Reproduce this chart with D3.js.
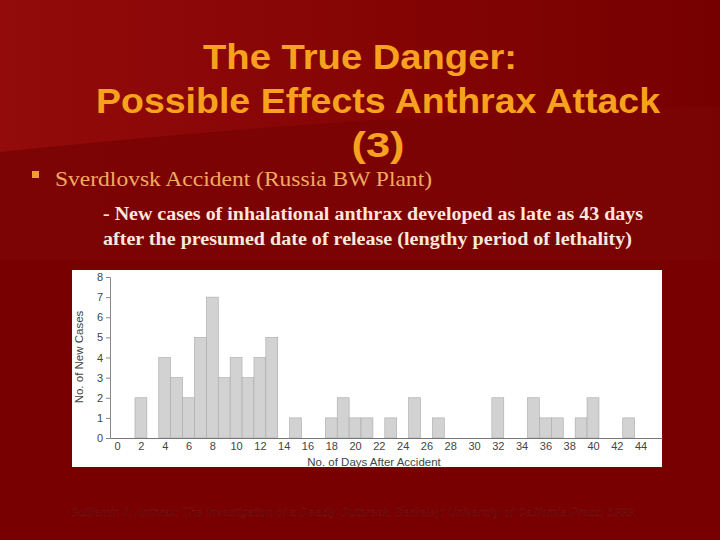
<!DOCTYPE html>
<html><head><meta charset="utf-8">
<script src="https://cdn.jsdelivr.net/npm/d3@7"></script>
<style>html,body{margin:0;padding:0;background:#7a0000;}svg{display:block;}</style>
</head><body>
<script>
// ---- data ----
const days  = [2,4,5,6,7,8,9,10,11,12,13,15,18,19,20,21,23,25,27,32,35,36,37,39,40,43];
const cases = [2,4,3,2,5,7,3,4,3,4,5,1,1,2,1,1,1,2,1,2,2,1,1,1,2,1];
const xTicks = d3.range(0, 45, 2);
const yTicks = [0,1,2,3,4,5,6,7,8];
const titleLines = ["The True Danger:", "Possible Effects Anthrax Attack", "(3)"];
const bulletText = "Sverdlovsk Accident (Russia BW Plant)";
const subLines = ["- New cases of inhalational anthrax developed as late as 43 days",
                  "after the presumed date of release (lengthy period of lethality)"];
const yLabel = "No. of New Cases";
const xLabel = "No. of Days After Accident";
const footnote = "Guillemin J. Anthrax: The Investigation of a Deadly Outbreak. Berkeley: University of California Press; 1999.";

const W = 720, H = 540;
const svg = d3.select("body").append("svg").attr("width", W).attr("height", H);
const defs = svg.append("defs");
const g1 = defs.append("linearGradient").attr("id","bg").attr("x1","0").attr("x2","1").attr("y1","0").attr("y2","0");
g1.append("stop").attr("offset","0").attr("stop-color","#930b0b");
g1.append("stop").attr("offset","0.55").attr("stop-color","#840404");
g1.append("stop").attr("offset","1").attr("stop-color","#760000");
svg.append("rect").attr("width",W).attr("height",H).attr("fill","url(#bg)");
// darker lower band
svg.append("path")
  .attr("d","M0,152 C120,140 260,126 420,118 C540,112 640,108 720,106 L720,540 L0,540 Z")
  .attr("fill","#7a0303").attr("opacity",0.9);
svg.append("rect").attr("x",0).attr("y",260).attr("width",W).attr("height",H-260).attr("fill","#780000");

// ---- title ----
const title = svg.append("g").attr("font-family","'Liberation Sans', Arial, sans-serif")
  .attr("font-weight","bold").attr("fill","#f7a21e").attr("text-anchor","middle");
const tY = [69, 113, 157];
const tX = [360, 378, 378];
const tLen = [314, 564, 53];
titleLines.forEach((t,i)=> title.append("text").attr("x",tX[i]).attr("y",tY[i]).attr("font-size",35)
  .attr("textLength",tLen[i]).attr("lengthAdjust","spacingAndGlyphs").text(t));

// bullet
svg.append("rect").attr("x",32).attr("y",171).attr("width",7).attr("height",7).attr("fill","#f0a030");
svg.append("text").attr("x",55).attr("y",186).attr("font-family","'Liberation Serif', 'Times New Roman', serif")
  .attr("font-size",22).attr("fill","#f2aa62").attr("textLength",377).attr("lengthAdjust","spacingAndGlyphs").text(bulletText);

// sub text
const sub = svg.append("g").attr("font-family","'Liberation Serif', 'Times New Roman', serif")
  .attr("font-weight","bold").attr("font-size",18).attr("fill","#fbe6dc");
const subLen = [540, 529];
subLines.forEach((t,i)=> sub.append("text").attr("x",103).attr("y",220+i*24.5)
  .attr("textLength",subLen[i]).attr("lengthAdjust","spacingAndGlyphs").text(t));

// ---- chart panel ----
svg.append("rect").attr("x",72).attr("y",270).attr("width",590).attr("height",197).attr("fill","#ffffff");

const x = d3.scaleLinear().domain([-0.6, 45.8]).range([110, 662]);
const y = d3.scaleLinear().domain([0, 8]).range([438, 277]);

const chart = svg.append("g").attr("font-family","'Liberation Sans', Arial, sans-serif");

chart.selectAll("rect.bar").data(days.map((d,i)=>({d, v:cases[i]}))).join("rect")
  .attr("class","bar")
  .attr("x", p => x(p.d - 0.5)).attr("width", p => x(p.d + 0.5) - x(p.d - 0.5))
  .attr("y", p => y(p.v)).attr("height", p => y(0) - y(p.v))
  .attr("fill","#d2d2d2").attr("stroke","#a8a8a8").attr("stroke-width",0.6);

// y axis
const yAxis = chart.append("g").attr("transform",`translate(${x(-0.6)},0)`)
  .call(d3.axisLeft(y).tickValues(yTicks).tickSize(4).tickPadding(3));
yAxis.select(".domain").attr("stroke","#888");
yAxis.selectAll(".tick line").attr("stroke","#888");
yAxis.selectAll(".tick text").attr("font-size",11).attr("fill","#444").attr("font-family","'Liberation Sans', Arial, sans-serif");

// x axis
const xAxis = chart.append("g").attr("transform",`translate(0,${y(0)})`)
  .call(d3.axisBottom(x).tickValues(xTicks).tickSize(0).tickPadding(4).tickSizeOuter(0));
xAxis.select(".domain").attr("stroke","#777");
xAxis.selectAll(".tick text").attr("font-size",11).attr("fill","#444").attr("font-family","'Liberation Sans', Arial, sans-serif");

chart.append("text").attr("x",374).attr("y",466).attr("text-anchor","middle")
  .attr("font-size",11.5).attr("fill","#444").text(xLabel);
chart.append("text").attr("transform","translate(83,357) rotate(-90)").attr("text-anchor","middle")
  .attr("font-size",11.5).attr("fill","#444").text(yLabel);

// footnote
svg.append("text").attr("x",70).attr("y",516)
  .attr("font-family","'Liberation Sans', Arial, sans-serif").attr("font-style","italic")
  .attr("font-size",10.5).attr("fill","#4a0000").attr("stroke","#8e1c1c").attr("stroke-width",0.3)
  .attr("textLength",567).attr("lengthAdjust","spacingAndGlyphs")
  .text(footnote);
</script>
</body></html>
